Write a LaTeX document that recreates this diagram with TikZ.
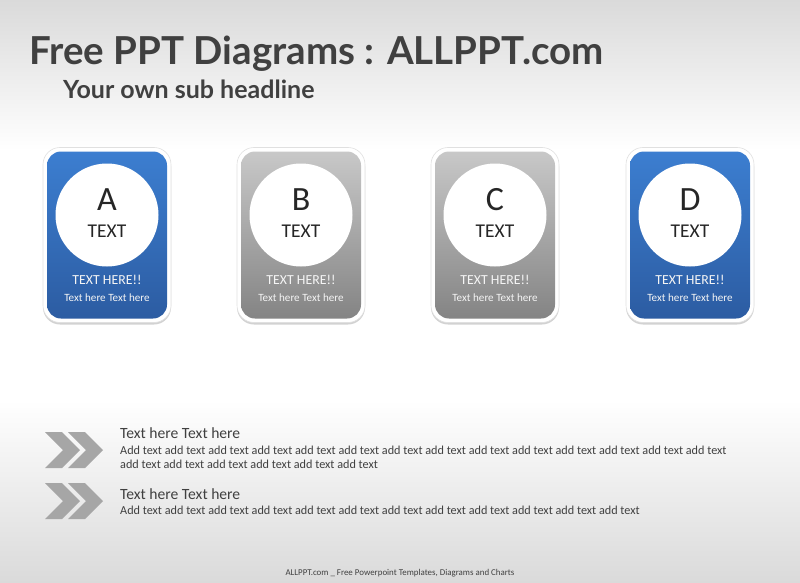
\documentclass[tikz,border=0pt]{standalone}
\usepackage{fontspec}
\setmainfont{Carlito}
\newfontfamily\headfont{Lato}
\usetikzlibrary{shadows}

\definecolor{headgray}{RGB}{64,64,64}
\definecolor{bluetop}{RGB}{60,126,208}
\definecolor{bluebot}{RGB}{44,92,162}
\definecolor{graytop}{RGB}{200,200,200}
\definecolor{graybot}{RGB}{132,132,132}
\definecolor{arrowgray}{RGB}{166,166,166}
\definecolor{bodygray}{RGB}{64,64,64}
\definecolor{bgedge}{RGB}{218,218,218}

\pgfdeclareverticalshading{slidebg}{100bp}{color(0bp)=(bgedge); color(25bp)=(bgedge); color(40.7bp)=(white); color(62.1bp)=(white); color(75bp)=(bgedge); color(100bp)=(bgedge)}

\tikzset{
  frame/.style={fill=white, draw=black!12, line width=.6pt, rounded corners=17pt, minimum width=128pt, minimum height=175pt,
    drop shadow={shadow xshift=0pt, shadow yshift=-2pt, opacity=.35}},
  bluecard/.style={top color=bluetop, bottom color=bluebot},
  graycard/.style={top color=graytop, bottom color=graybot},
  face/.style={rounded corners=14pt, minimum width=120pt, minimum height=167pt},
  disc/.style={circle, fill=white, minimum size=103pt, inner sep=0pt},
  chev/.style={fill=arrowgray},
}

\begin{document}
\begin{tikzpicture}[x=1pt, y=-1pt]
\useasboundingbox (0,0) rectangle (800,583);
\fill[shading=slidebg] (0,0) rectangle (800,583);

% headline
\node[anchor=base west, inner sep=0pt, text=headgray, font=\headfont\bfseries\fontsize{38.5}{46}\selectfont]
  (title) at (29,65) {Free PPT Diagrams : ALLPPT.com};
\node[anchor=base west, inner sep=0pt, text=headgray, font=\headfont\bfseries\fontsize{25}{30}\selectfont]
  (subtitle) at (63,99) {Your own sub headline};

% cards
\foreach \cx/\lbl/\kind in {107/A/bluecard, 301/B/graycard, 495/C/graycard, 690/D/bluecard} {
  \node[frame] (frame-\lbl) at (\cx,235) {};
  \node[face, \kind] (card-\lbl) at (\cx,235) {};
  \node[disc] (disc-\lbl) at (\cx,215) {};
  \node[font=\fontsize{34}{40}\selectfont, text=black!85, inner sep=0pt] (letter-\lbl) at (\cx,200) {\lbl};
  \node[font=\fontsize{19.5}{22}\selectfont, text=black!85, inner sep=0pt] (name-\lbl) at (\cx,231) {TEXT};
  \node[font=\fontsize{13.8}{16}\selectfont, text=white!92!gray, inner sep=0pt] (head-\lbl) at (\cx,280) {TEXT HERE!!};
  \node[font=\fontsize{11.1}{13}\selectfont, text=white!92!gray, inner sep=0pt] (sub-\lbl) at (\cx,298) {Text here Text here};
}

% chevrons
\foreach \cy in {450,501} {
  \foreach \cx in {45,68}
    \fill[chev] (\cx,\cy-18) -- ++(17,0) -- ++(18,18) -- ++(-18,18) -- ++(-17,0) -- ++(18,-18) -- cycle;
}

% text blocks
\node[anchor=base west, inner sep=0pt, text=bodygray, font=\fontsize{15.6}{18}\selectfont] (tA) at (120,438) {Text here Text here};
\node[anchor=base west, inner sep=0pt, text=bodygray, font=\fontsize{12.2}{14.5}\selectfont] (bA) at (120,454)
  {Add text add text add text add text add text add text add text add text add text add text add text add text add text add text};
\node[anchor=base west, inner sep=0pt, text=bodygray, font=\fontsize{12.2}{14.5}\selectfont] (bA2) at (120,468.5)
  {add text add text add text add text add text add text};
\node[anchor=base west, inner sep=0pt, text=bodygray, font=\fontsize{15.6}{18}\selectfont] (tB) at (120,499) {Text here Text here};
\node[anchor=base west, inner sep=0pt, text=bodygray, font=\fontsize{12.2}{14.5}\selectfont] (bB) at (120,514)
  {Add text add text add text add text add text add text add text add text add text add text add text add text};

% footer
\node[inner sep=0pt, text=bodygray, font=\fontsize{8.9}{10}\selectfont] (foot) at (400,573)
  {ALLPPT.com \_ Free Powerpoint Templates, Diagrams and Charts};
\end{tikzpicture}
\end{document}
